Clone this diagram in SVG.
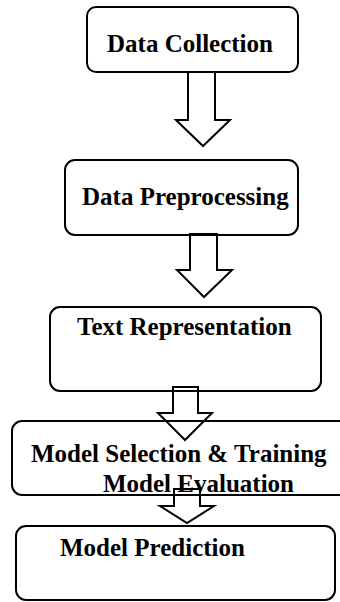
<svg xmlns="http://www.w3.org/2000/svg" width="340" height="602" viewBox="0 0 340 602">
  <style>
    .box { fill: #ffffff; stroke: #000000; stroke-width: 2; }
    .arrow { fill: none; stroke: #000000; stroke-width: 2; stroke-linejoin: miter; }
    .label { font-family: "Liberation Serif", "Times New Roman", serif; font-weight: bold; font-size: 25px; fill: #000000; }
  </style>
  <rect width="340" height="602" fill="#ffffff"/>

  <g id="data-collection">
    <rect class="box" x="87" y="7" width="211" height="65" rx="9"/>
    <text class="label" x="107" y="52">Data Collection</text>
  </g>

  <g id="data-preprocessing">
    <rect class="box" x="65" y="160" width="233" height="75" rx="10"/>
    <text class="label" x="82" y="205">Data Preprocessing</text>
  </g>

  <g id="text-representation">
    <rect class="box" x="50" y="307" width="271" height="84" rx="10"/>
    <text class="label" x="77" y="335">Text Representation</text>
  </g>

  <g id="model-selection-training">
    <rect class="box" x="12" y="421" width="345" height="74" rx="10"/>
    <text class="label" x="31" y="462">Model Selection &amp; Training</text>
    <text class="label" x="103" y="492">Model Evaluation</text>
  </g>

  <g id="model-prediction">
    <rect class="box" x="16" y="526" width="319" height="74" rx="10"/>
    <text class="label" x="60" y="556">Model Prediction</text>
  </g>

  <!-- hollow block arrows between stages -->
  <g id="connectors">
    <polygon class="arrow" points="188,72 215,72 215,120 230,120 203,146 176,120 188,120"/>
    <polygon class="arrow" points="190,234 217,234 217,270 232,270 204,297 177,270 190,270"/>
    <polygon class="arrow" points="173,387 198,387 198,413 212,413 185,440 158,413 173,413"/>
    <polygon class="arrow" points="174,489 200,489 200,506 214,506 187,523 160,506 174,506"/>
  </g>
</svg>
